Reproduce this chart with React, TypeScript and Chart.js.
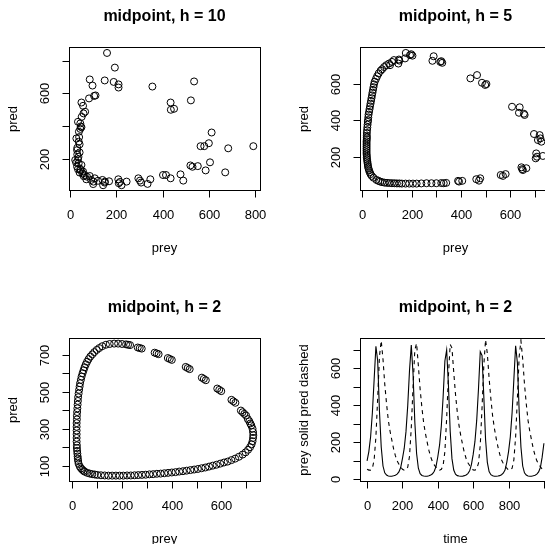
import React, { useEffect, useRef } from 'react';
import { Chart, registerables } from 'chart.js';

Chart.register(...registerables);

const FONT = '"Liberation Sans", Arial, Helvetica, sans-serif';

// ---------- Panel 1: midpoint, h = 10 ----------
const prey10 = [159,193,84,96,149,188,209,209,356,537,435,436,450,523,81,103,109,48,55,64,57,49,33,43,48,43,37,26,36,40,29,40,33,21,36,48,29,43,55,40,62,72,84,106,69,99,139,149,142,168,208,215,222,244,295,302,307,335,347,402,415,435,478,490,521,530,553,565,581,601,613,606,587,672,685,794,30,35,25,45,52,33,58,90,120,100,150,210,38,45,30];
const pred10 = [846,757,685,648,679,670,655,636,642,673,545,501,507,558,570,585,588,545,525,489,479,458,428,418,395,385,368,327,307,291,256,242,200,196,176,166,156,142,126,120,105,95,99,85,79,50,75,59,43,67,79,63,43,65,85,71,59,51,79,105,105,85,109,71,163,155,159,280,280,298,363,182,133,121,267,280,230,215,180,135,115,140,98,75,70,65,65,55,335,400,270];

// ---------- Panel 2: midpoint, h = 5 ----------
const prey5 = [289,284,316,324,320,438,465,485,503,498,607,638,635,658,655,696,719,712,726,722,705,703,732,708,665,645,651,648,561,581,570,462,478,473,388,405,392,
  340,330,320,300,280,260,239,220,205,190,175,160,150,140,130,120,110,100,90,80,72,65,57,
  45,38,33,30,27,25,23,22,21,20,19,18,18,17,17,17,17,17,17,17,17,18,18,18,18,19,20,21,22,23,24,25,27,29,31,33,35,37,39,41,43,45,47,50,55,60,66,74,80,88,97,
  108,112,146,148,150,173,176,193,198,203,120,128];
const pred5 = [749,724,718,713,722,628,646,604,597,592,473,470,440,428,435,324,318,291,282,300,218,191,204,200,137,142,127,132,100,105,95,77,82,69,68,68,64,
  57,55,56,55,55,55,54,53,53,53,53,53,54,54,55,55,56,57,58,61,64,68,73,
  85,95,105,115,125,135,145,155,165,175,185,195,205,215,225,235,245,255,265,275,285,295,305,315,330,345,360,375,390,400,415,430,445,460,475,490,505,520,535,550,565,580,595,610,625,640,655,670,678,690,700,
  709,700,709,731,725,737,767,755,760,752,718,728];

// ---------- Panel 3: midpoint, h = 2 ----------
const prey2 = [25,30,35,40,45,50,60,70,80,90,100,115,130,145,160,175,190,205,220,235,250,265,280,295,310,325,340,355,370,385,400,415,430,445,460,475,490,505,520,535,550,565,580,595,610,625,640,655,670,685,697,707,715,721,725,727,728,727,725,
  720,716,712,706,699,692,685,678,
  656,648,640,599,591,583,537,529,521,472,464,456,400,392,384,347,339,331,279,271,263,232,224,216,
  200,184,168,150,135,120,
  108,98,88,80,72,65,59,54,49,45,41,37,34,31,29,27,25,23,22,21,20,19,18,18,17,17,17,17,17,17,18,18,19,20,21,22,23];
const pred2 = [110,95,85,78,72,67,61,57,54,52,50,48,47,46,46,46,46,46,47,47,48,49,50,51,53,54,56,57,59,61,63,65,68,70,73,76,79,82,86,90,95,100,105,111,117,122,130,138,148,160,172,186,200,215,232,250,265,282,300,
  318,328,340,352,371,380,389,398,
  440,448,456,503,510,517,562,569,576,622,628,634,672,677,682,703,707,711,733,736,739,752,754,756,
  758,760,760,758,754,746,
  736,726,714,702,690,676,662,648,632,616,600,582,564,546,528,510,490,470,450,430,410,390,370,350,330,310,290,270,250,230,210,195,180,165,150,138,125];

// ---------- Panel 4: time series, h = 2 ----------
const time = [0,10,20,30,40,50,60,70,80,90,100,110,120,130,140,150,160,170,180,190,
  200,210,220,230,240,250,260,270,280,290,300,310,320,330,340,350,360,370,380,390,
  400,410,420,430,440,450,460,470,480,490,500,510,520,530,540,550,560,570,580,590,
  600,610,620,630,640,650,660,670,680,690,700,710,720,730,740,750,760,770,780,790,
  800,810,820,830,840,850,860,870,880,890,900,910,920,930,940,950,960,970,980,990,1000];
const preyTS = [100,150,230,360,540,720,640,370,175,72,35,23,18,17,17,19,22,28,40,64,
  112,167,258,400,590,726,570,310,140,60,31,21,18,17,17,19,23,30,44,70,
  122,186,290,445,640,700,510,260,112,50,28,20,18,17,17,20,24,31,46,80,
  135,205,320,490,690,670,450,215,92,42,25,19,17,17,18,20,25,33,50,92,
  150,230,360,540,722,630,370,175,72,35,23,18,17,17,19,22,28,40,64,120,195];
const predTS = [55,50,50,60,105,230,440,664,750,650,515,410,320,260,212,165,128,100,82,68,
  54,49,52,66,125,280,500,700,735,615,488,388,305,248,200,155,120,95,78,65,
  52,49,54,75,150,330,560,730,710,580,460,365,290,235,188,145,113,90,75,62,
  51,49,57,88,185,385,615,755,680,548,435,342,275,222,176,136,106,86,71,60,
  50,50,60,105,230,440,664,750,650,515,410,320,260,212,165,128,100,82,68,56,50];

// ---------- Axis ticks ----------
const ticksX1 = [0, 200, 400, 600, 800];
const labelsX1 = ['0', '200', '400', '600', '800'];
const ticksY1 = [200, 400, 600, 800];
const labelsY1 = ['200', '', '600', ''];

const ticksX2 = [0, 100, 200, 300, 400, 500, 600, 700];
const labelsX2 = ['0', '', '200', '', '400', '', '600', ''];
const ticksY2 = [200, 400, 600];
const labelsY2 = ['200', '400', '600'];

const ticksX3 = [0, 100, 200, 300, 400, 500, 600, 700];
const labelsX3 = ['0', '', '200', '', '400', '', '600', ''];
const ticksY3 = [100, 200, 300, 400, 500, 600, 700];
const labelsY3 = ['100', '', '300', '', '500', '', '700'];

const ticksX4 = [0, 200, 400, 600, 800, 1000];
const labelsX4 = ['0', '200', '400', '600', '800', ''];
const ticksY4 = [0, 100, 200, 300, 400, 500, 600, 700];
const labelsY4 = ['0', '', '200', '', '400', '', '600', ''];

type Spec = {
  title: string; xlab: string; ylab: string;
  xMin: number; xMax: number; yMin: number; yMax: number;
  xTicks: number[]; xLabels: string[]; yTicks: number[]; yLabels: string[];
  datasets: any[];
};

const scatterSet = (xs: number[], ys: number[]) => ({
  data: xs.map((x, i) => ({ x, y: ys[i] })),
  showLine: false,
  pointStyle: 'circle',
  pointRadius: 3.5,
  pointBorderWidth: 1,
  borderColor: '#000',
  pointBorderColor: '#000',
  backgroundColor: 'rgba(0,0,0,0)',
  pointBackgroundColor: 'rgba(0,0,0,0)',
});

const lineSet = (xs: number[], ys: number[], dash: number[]) => ({
  data: xs.map((x, i) => ({ x, y: ys[i] })),
  showLine: true,
  pointRadius: 0,
  borderColor: '#000',
  borderWidth: 1.1,
  borderDash: dash,
  tension: 0,
  fill: false,
});

const specs: Spec[] = [
  { title: 'midpoint, h = 10', xlab: 'prey', ylab: 'pred', xMin: -6, xMax: 823, yMin: 14, yMax: 876,
    xTicks: ticksX1, xLabels: labelsX1, yTicks: ticksY1, yLabels: labelsY1, datasets: [scatterSet(prey10, pred10)] },
  { title: 'midpoint, h = 5', xlab: 'prey', ylab: 'pred', xMin: -9.7, xMax: 765, yMin: 18, yMax: 794,
    xTicks: ticksX2, xLabels: labelsX2, yTicks: ticksY2, yLabels: labelsY2, datasets: [scatterSet(prey5, pred5)] },
  { title: 'midpoint, h = 2', xlab: 'prey', ylab: 'pred', xMin: -13.7, xMax: 755, yMin: 17, yMax: 785,
    xTicks: ticksX3, xLabels: labelsX3, yTicks: ticksY3, yLabels: labelsY3, datasets: [scatterSet(prey2, pred2)] },
  { title: 'midpoint, h = 2', xlab: 'time', ylab: 'prey solid pred dashed', xMin: -40, xMax: 1040, yMin: -9, yMax: 759,
    xTicks: ticksX4, xLabels: labelsX4, yTicks: ticksY4, yLabels: labelsY4,
    datasets: [lineSet(time, preyTS, []), lineSet(time, predTS, [4, 4])] },
];

const SIZE = 291;

function Panel({ spec, left, top }: { spec: Spec; left: number; top: number }) {
  const ref = useRef<HTMLCanvasElement>(null);
  useEffect(() => {
    const rAxes = {
      id: 'rAxes',
      afterDraw(chart: any) {
        const { ctx, chartArea: a, scales } = chart;
        const xs = scales.x, ys = scales.y;
        ctx.save();
        ctx.strokeStyle = '#000';
        ctx.fillStyle = '#000';
        ctx.lineWidth = 1;
        const L = a.left + 0.5, T = a.top - 0.5, R = a.right + 0.5, B = a.bottom + 0.5;
        ctx.strokeRect(L, T, R - L, B - T);
        // x axis
        const xp = spec.xTicks.map((v) => Math.round(xs.getPixelForValue(v)) + 0.5);
        ctx.beginPath();
        ctx.moveTo(xp[0], B);
        ctx.lineTo(xp[xp.length - 1], B);
        xp.forEach((p) => { ctx.moveTo(p, B); ctx.lineTo(p, B + 7); });
        ctx.stroke();
        ctx.font = `13px ${FONT}`;
        ctx.textAlign = 'center';
        ctx.textBaseline = 'alphabetic';
        spec.xLabels.forEach((lab, i) => { if (lab) ctx.fillText(lab, xp[i], a.bottom + 29); });
        // y axis
        const yp = spec.yTicks.map((v) => Math.round(ys.getPixelForValue(v)) + 0.5);
        ctx.beginPath();
        ctx.moveTo(L, yp[0]);
        ctx.lineTo(L, yp[yp.length - 1]);
        yp.forEach((p) => { ctx.moveTo(L, p); ctx.lineTo(L - 7, p); });
        ctx.stroke();
        spec.yLabels.forEach((lab, i) => {
          if (!lab) return;
          ctx.save();
          ctx.translate(a.left - 20, yp[i]);
          ctx.rotate(-Math.PI / 2);
          ctx.fillText(lab, 0, 0);
          ctx.restore();
        });
        const cx = (a.left + a.right) / 2, cy = (a.top + a.bottom) / 2;
        ctx.fillText(spec.xlab, cx, a.bottom + 62);
        ctx.save();
        ctx.translate(a.left - 52.5, cy);
        ctx.rotate(-Math.PI / 2);
        ctx.fillText(spec.ylab, 0, 0);
        ctx.restore();
        ctx.font = `bold 16px ${FONT}`;
        ctx.fillText(spec.title, cx, a.top - 27);
        ctx.restore();
      },
    };
    const chart = new Chart(ref.current as HTMLCanvasElement, {
      type: 'scatter',
      data: { datasets: spec.datasets },
      options: {
        animation: false,
        responsive: false,
        maintainAspectRatio: false,
        devicePixelRatio: 1,
        events: [],
        layout: { padding: { left: 69, top: 48, right: SIZE - 260, bottom: SIZE - 190 } },
        scales: {
          x: { type: 'linear', display: false, min: spec.xMin, max: spec.xMax },
          y: { type: 'linear', display: false, min: spec.yMin, max: spec.yMax },
        },
        plugins: { legend: { display: false }, tooltip: { enabled: false }, title: { display: false } },
      } as any,
      plugins: [rAxes],
    });
    return () => chart.destroy();
  }, [spec]);
  return (
    <canvas
      ref={ref}
      width={SIZE}
      height={SIZE}
      style={{ position: 'absolute', left, top, width: SIZE, height: SIZE, display: 'block' }}
    />
  );
}

export default function App() {
  return (
    <div style={{ position: 'fixed', left: 0, top: 0, width: 545, height: 544, overflow: 'hidden', background: '#fff' }}>
      <Panel spec={specs[0]} left={0} top={0} />
      <Panel spec={specs[1]} left={291} top={0} />
      <Panel spec={specs[2]} left={0} top={291} />
      <Panel spec={specs[3]} left={291} top={291} />
    </div>
  );
}
